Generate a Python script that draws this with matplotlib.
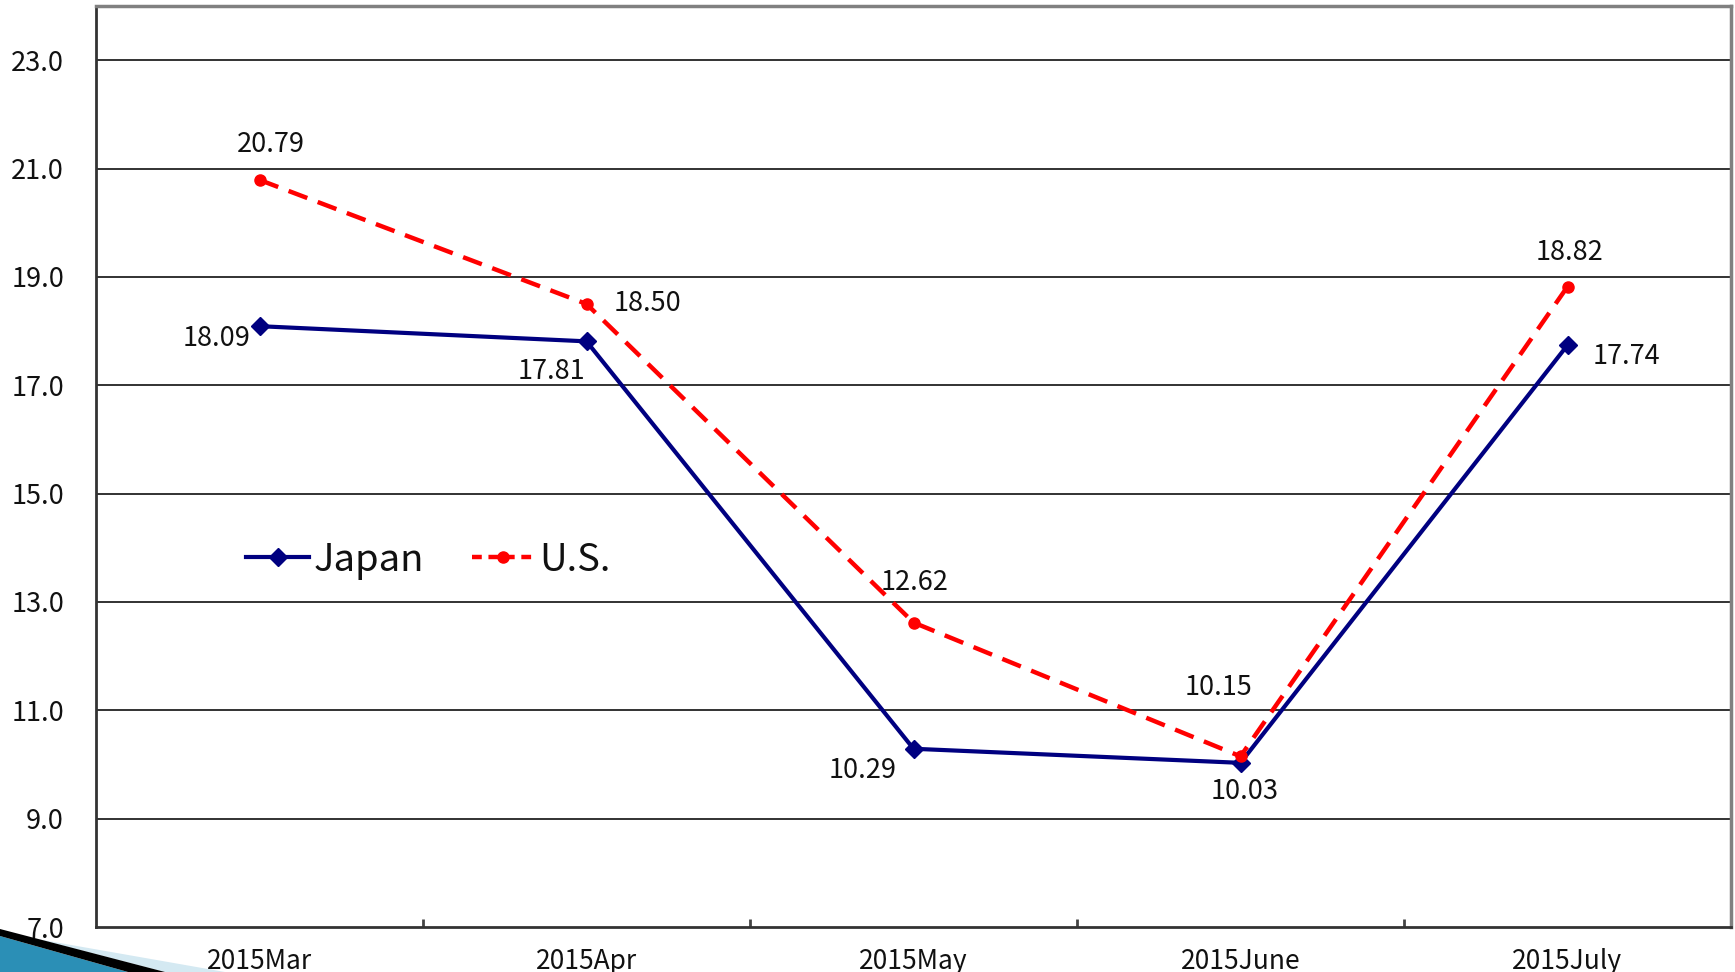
import matplotlib
matplotlib.use("Agg")
import matplotlib.pyplot as plt
from matplotlib.patches import Polygon
from matplotlib.ticker import FixedLocator

plt.rcParams['font.family'] = ['Noto Sans CJK JP', 'DejaVu Sans']

months = ["2015Mar", "2015Apr", "2015May", "2015June", "2015July"]
japan = [18.09, 17.81, 10.29, 10.03, 17.74]
us = [20.79, 18.50, 12.62, 10.15, 18.82]
y_ticks = [7.0, 9.0, 11.0, 13.0, 15.0, 17.0, 19.0, 21.0, 23.0]

# label offsets in pixels (dx, dy) relative to each point
japan_offsets = [(-43, -12), (-35, -30), (-51, -22), (4, -29), (59, -11)]
us_offsets = [(11, 35), (61, 0), (1, 40), (-22, 69), (2, 34)]

W, H = 1735, 972
fig = plt.figure(figsize=(W / 100, H / 100), dpi=100)
ax = fig.add_axes([96 / W, 1 - 927 / H, (1731 - 96) / W, (927 - 6) / H])

x = [i + 0.5 for i in range(len(months))]

ax.set_xlim(0, len(months))
ax.set_ylim(7, 24)

for v in y_ticks[1:]:
    ax.axhline(v, color="#222222", lw=1.3, zorder=1)

ax.plot(x, japan, color="#000080", lw=3.0, marker="D", markersize=9,
        label="Japan", zorder=3, solid_joinstyle="miter")
ax.plot(x, us, color="#ff0000", lw=3.2, ls=(0, (4.5, 2.5)), marker="o",
        markersize=8, label="U.S.", zorder=4)

label_font = 19.5
for xi, v, (dx, dy) in zip(x, japan, japan_offsets):
    ax.annotate(f"{v:.2f}", (xi, v), xytext=(dx, dy), textcoords="offset pixels",
                ha="center", va="center", fontsize=label_font, color="#111111",
                zorder=5)
for xi, v, (dx, dy) in zip(x, us, us_offsets):
    ax.annotate(f"{v:.2f}", (xi, v), xytext=(dx, dy), textcoords="offset pixels",
                ha="center", va="center", fontsize=label_font, color="#111111",
                zorder=5)

ax.set_yticks(y_ticks)
ax.set_yticklabels([f"{v:.1f}" for v in y_ticks], fontsize=19.5, color="#111111")
ax.tick_params(axis="y", length=0, pad=23)

ax.set_xticks(x)
ax.set_xticklabels(months, fontsize=19, color="#111111")
ax.tick_params(axis="x", which="major", length=0, pad=15)
ax.xaxis.set_minor_locator(FixedLocator([1, 2, 3, 4]))
ax.tick_params(axis="x", which="minor", direction="in", length=6, width=2,
               color="#444444")

for side in ("left", "bottom"):
    ax.spines[side].set_color("#333333")
    ax.spines[side].set_linewidth(2)
for side in ("top", "right"):
    ax.spines[side].set_color("#808080")
    ax.spines[side].set_linewidth(2.5)

leg = ax.legend(loc="center left", bbox_to_anchor=(246 / W, 1 - 560 / H),
                bbox_transform=fig.transFigure, ncol=2, frameon=False,
                fontsize=27.5, handlelength=1.65, handletextpad=0.12,
                columnspacing=1.25, borderaxespad=0, borderpad=0)
for t in leg.get_texts():
    t.set_color("#111111")
leg.get_lines()[1].set_dashes((2.2, 1.5))


def fig_poly(pts, color):
    verts = [(px / W, 1 - py / H) for px, py in pts]
    fig.patches.append(Polygon(verts, closed=True, facecolor=color,
                               edgecolor="none", transform=fig.transFigure,
                               zorder=10))


# corner ribbon decoration
fig_poly([(37, 939), (225, 972), (165, 972)], "#d4e9f2")
fig_poly([(0, 936), (0, 972), (128, 972)], "#2b8fb6")
fig_poly([(0, 929), (165, 972), (128, 972), (0, 936)], "#000000")

fig.savefig("out.png", dpi=100)
